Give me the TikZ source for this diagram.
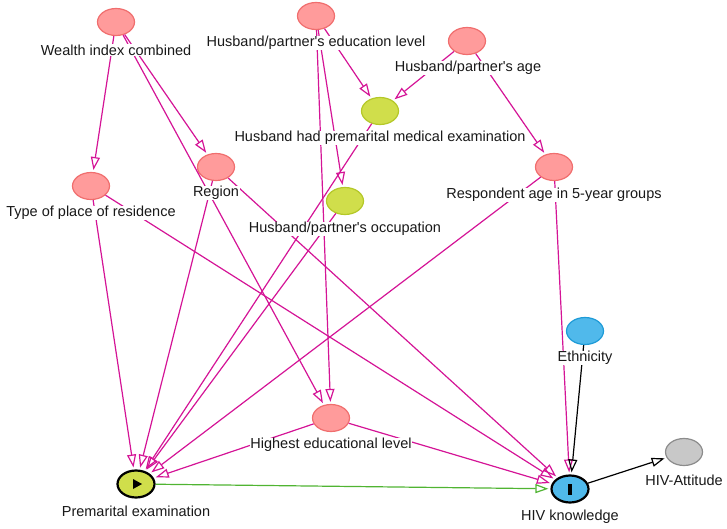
\documentclass[tikz,border=0pt]{standalone}
\usepackage{fontspec}
\newfontfamily\labfont{Liberation Sans}
\usetikzlibrary{shapes.geometric,arrows.meta}
\definecolor{pinkfill}{RGB}{255,155,155}
\definecolor{pinkdraw}{RGB}{240,110,110}
\definecolor{grnfill}{RGB}{208,222,75}
\definecolor{grndraw}{RGB}{180,200,40}
\definecolor{bluefill}{RGB}{80,185,235}
\definecolor{bluedraw}{RGB}{30,155,215}
\definecolor{grayfill}{RGB}{200,200,200}
\definecolor{graydraw}{RGB}{140,140,140}
\definecolor{mag}{RGB}{212,20,150}
\definecolor{grnline}{RGB}{80,180,50}
\definecolor{textc}{RGB}{25,25,25}
\tikzset{
  vnode/.style={ellipse, minimum width=37pt, minimum height=27pt, inner sep=0pt, line width=1.2pt},
  pnode/.style={vnode, fill=pinkfill, draw=pinkdraw},
  gnode/.style={vnode, fill=grnfill, draw=grndraw},
  bnode/.style={vnode, fill=bluefill, draw=bluedraw},
  ynode/.style={vnode, fill=grayfill, draw=graydraw},
  xnode/.style={vnode, draw=black, line width=2.2pt},
  lab/.style={fill=white, inner sep=0.6pt, text=textc, font=\labfont\fontsize{14.5}{17}\selectfont},
  tip/.style={-{Triangle[open, length=13pt, width=9pt]}, shorten >=2pt},
  medge/.style={draw=mag, line width=1.2pt, tip},
  kedge/.style={draw=black, line width=1.2pt, tip},
  gedge/.style={draw=grnline, line width=1.2pt, tip},
}
\begin{document}
\begin{tikzpicture}[x=1pt, y=-1pt]
\path[use as bounding box] (0,0) rectangle (727,529);
% variable nodes
\node[pnode] (W)   at (116,22)  {};
\node[pnode] (HE)  at (316,16)  {};
\node[pnode] (HA)  at (467,41)  {};
\node[gnode] (HPM) at (380,111) {};
\node[pnode] (R)   at (216,167) {};
\node[pnode] (T)   at (91,186)  {};
\node[gnode] (HO)  at (345,201) {};
\node[pnode] (RA)  at (554,167) {};
\node[bnode] (E)   at (585,331) {};
\node[pnode] (HEL) at (331,418) {};
\node[xnode, fill=grnfill] (PE) at (136,484) {};
\node[xnode, fill=bluefill] (HK) at (570,489) {};
\node[ynode] (HAt) at (684,452) {};
\fill (PE.center) ++(-3,-5) -- ++(0,10) -- ++(9,-5) -- cycle;
\fill (HK.center) ++(-1.6,-5.5) rectangle ++(3.2,11);
% edges
\draw[medge] (W) -- (T);
\draw[medge] (W) -- (R);
\draw[medge] (W) -- (HEL);
\draw[medge] (HE) -- (HPM);
\draw[medge] (HE) -- (HO);
\draw[medge] (HE) -- (HEL);
\draw[medge] (HA) -- (HPM);
\draw[medge] (HA) -- (RA);
\draw[medge] (HPM) -- (PE);
\draw[medge] (HO) -- (PE);
\draw[medge] (R) -- (PE);
\draw[medge] (R) -- (HK);
\draw[medge] (T) -- (PE);
\draw[medge] (T) -- (HK);
\draw[medge] (RA) -- (PE);
\draw[medge] (RA) -- (HK);
\draw[medge] (HEL) -- (PE);
\draw[medge] (HEL) -- (HK);
\draw[kedge] (E) -- (HK);
\draw[gedge] (PE) -- (HK);
\draw[kedge] (HK) -- (HAt);
% labels
\node[lab] (Wl)   at (116,50)  {Wealth index combined};
\node[lab] (HEl)  at (316,43)  {Husband/partner's education level};
\node[lab] (HAl)  at (468,68)  {Husband/partner's age};
\node[lab] (HPMl) at (380,138) {Husband had premarital medical examination};
\node[lab] (Rl)   at (216,193) {Region};
\node[lab] (Tl)   at (91,213)  {Type of place of residence};
\node[lab] (HOl)  at (345,229) {Husband/partner's occupation};
\node[lab] (RAl)  at (554,195) {Respondent age in 5-year groups};
\node[lab] (El)   at (585,358) {Ethnicity};
\node[lab] (HELl) at (331,445) {Highest educational level};
\node[lab] (PEl)  at (136,511) {Premarital examination};
\node[lab] (HKl)  at (570,517) {HIV knowledge};
\node[lab] (HAtl) at (684,480) {HIV-Attitude};
\end{tikzpicture}
\end{document}
